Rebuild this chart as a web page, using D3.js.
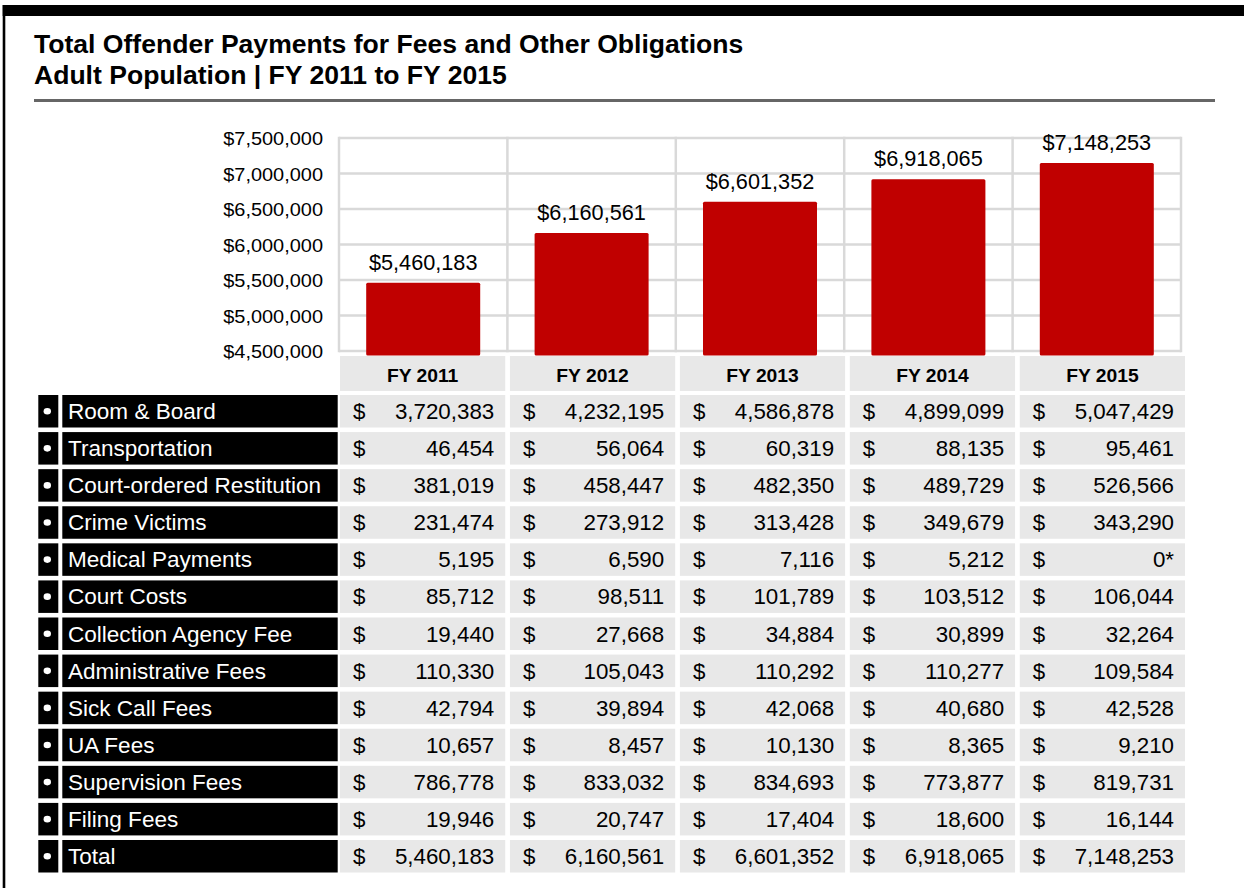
<!DOCTYPE html>
<html>
<head>
<meta charset="utf-8">
<script src="https://cdn.jsdelivr.net/npm/d3@7"></script>
<style>
  html, body { margin: 0; padding: 0; background: #fff; }
  svg { display: block; font-family: "Liberation Sans", Arial, Helvetica, sans-serif; }
</style>
</head>
<body>
<svg id="chart" width="1244" height="888"></svg>
<script>
// ---- Data -------------------------------------------------------------
const titleLines = [
  "Total Offender Payments for Fees and Other Obligations",
  "Adult Population | FY 2011 to FY 2015"
];
const fiscalYears = ["FY 2011", "FY 2012", "FY 2013", "FY 2014", "FY 2015"];
const yTickValues = [4500000, 5000000, 5500000, 6000000, 6500000, 7000000, 7500000];

const categories = [
  "Room & Board", "Transportation", "Court-ordered Restitution", "Crime Victims",
  "Medical Payments", "Court Costs", "Collection Agency Fee", "Administrative Fees",
  "Sick Call Fees", "UA Fees", "Supervision Fees", "Filing Fees", "Total"
];
// One array per fiscal year, in category order (last entry is the total)
const fy2011 = [3720383, 46454, 381019, 231474, 5195, 85712, 19440, 110330, 42794, 10657, 786778, 19946, 5460183];
const fy2012 = [4232195, 56064, 458447, 273912, 6590, 98511, 27668, 105043, 39894, 8457, 833032, 20747, 6160561];
const fy2013 = [4586878, 60319, 482350, 313428, 7116, 101789, 34884, 110292, 42068, 10130, 834693, 17404, 6601352];
const fy2014 = [4899099, 88135, 489729, 349679, 5212, 103512, 30899, 110277, 40680, 8365, 773877, 18600, 6918065];
const fy2015 = [5047429, 95461, 526566, 343290, 0, 106044, 32264, 109584, 42528, 9210, 819731, 16144, 7148253];
// Cells carrying a footnote marker: [category index, year index]
const footnoteCells = [[4, 4]];

const yearColumns = [fy2011, fy2012, fy2013, fy2014, fy2015];
const totalIndex = categories.indexOf("Total");
const totals = yearColumns.map(col => col[totalIndex]);

// ---- Setup -------------------------------------------------------------
const svg = d3.select("#chart");
const fmtNum = d3.format(",");
const fmtMoney = v => "$" + fmtNum(v);

// Text helper: positions text and applies a slight horizontal stretch
function putText(g, str, x, y, opts) {
  const o = Object.assign({ size: 20, weight: "normal", anchor: "start", sx: 1, fill: "#000" }, opts || {});
  return g.append("text")
    .attr("transform", `translate(${x},${y}) scale(${o.sx},1)`)
    .attr("text-anchor", o.anchor)
    .attr("font-size", o.size)
    .attr("font-weight", o.weight)
    .attr("fill", o.fill)
    .text(str);
}

// ---- Frame -------------------------------------------------------------
svg.append("rect").attr("x", 2.7).attr("y", 5).attr("width", 1244).attr("height", 11).attr("fill", "#000");
svg.append("rect").attr("x", 2.7).attr("y", 5).attr("width", 2.6).attr("height", 883).attr("fill", "#000");

// Title
const titleG = svg.append("g");
putText(titleG, titleLines[0], 34, 52.5, { size: 25, weight: "bold", sx: 1.063 });
putText(titleG, titleLines[1], 34, 83.5, { size: 25, weight: "bold", sx: 1.063 });
svg.append("rect").attr("x", 34).attr("y", 99).attr("width", 1181).attr("height", 3).attr("fill", "#666");

// ---- Bar chart ----------------------------------------------------------
const x = d3.scaleBand().domain(fiscalYears).range([339, 1181]).paddingInner(0.323).paddingOuter(0.1615);
const y = d3.scaleLinear().domain([4500000, 7500000]).range([351, 138]);
const step = x.step();
const plotLeft = 339, plotRight = 1181;

const grid = svg.append("g").attr("stroke", "#d9d9d9").attr("stroke-width", 2.5);
grid.selectAll("line.h").data(yTickValues).join("line")
  .attr("class", "h")
  .attr("x1", plotLeft).attr("x2", plotRight)
  .attr("y1", d => y(d)).attr("y2", d => y(d));
grid.selectAll("line.v").data(d3.range(fiscalYears.length + 1)).join("line")
  .attr("class", "v")
  .attr("x1", i => plotLeft + i * step).attr("x2", i => plotLeft + i * step)
  .attr("y1", y(7500000) - 1.25).attr("y2", y(4500000) + 1.25);

// Y tick labels
const tickG = svg.append("g");
yTickValues.forEach(v => putText(tickG, fmtMoney(v), 323, y(v) + 7.2, { size: 19, anchor: "end", sx: 1.05 }));

// Bars (run down to the top of the table header)
const barBottom = y(4500000) + 4.5;
svg.append("g").selectAll("rect").data(totals).join("rect")
  .attr("x", (d, i) => x(fiscalYears[i]))
  .attr("y", d => y(d))
  .attr("width", x.bandwidth())
  .attr("height", d => barBottom - y(d))
  .attr("rx", 1.5)
  .attr("fill", "#c00000");

// Value labels
const labelG = svg.append("g");
totals.forEach((v, i) => putText(labelG, fmtMoney(v), x(fiscalYears[i]) + x.bandwidth() / 2, y(v) - 13, { size: 21.5, anchor: "middle", sx: 1.01 }));

// ---- Data table ---------------------------------------------------------
const col = d3.scaleBand().domain(fiscalYears).range([340, 1185]).paddingInner(0.0278).paddingOuter(0);
const row = d3.scaleBand().domain(categories).range([395, 872.5]).paddingInner(0.1235).paddingOuter(0);
const cellFill = "#e8e8e8";

// Header row
const headG = svg.append("g");
fiscalYears.forEach(fy => {
  headG.append("rect").attr("x", col(fy)).attr("y", 356).attr("width", col.bandwidth()).attr("height", 35).attr("fill", cellFill);
  putText(headG, fy, col(fy) + col.bandwidth() / 2, 381.5, { size: 19, weight: "bold", anchor: "middle", sx: 1.015 });
});

// Body rows
const bodyG = svg.append("g");
categories.forEach((cat, r) => {
  const top = row(cat), h = row.bandwidth();
  const base = top + h / 2 + 7.8;
  bodyG.append("rect").attr("x", 38.3).attr("y", top).attr("width", 20).attr("height", h).attr("fill", "#000");
  bodyG.append("ellipse").attr("cx", 47.3).attr("cy", top + h / 2).attr("rx", 3.7).attr("ry", 3.3).attr("fill", "#fff");
  bodyG.append("rect").attr("x", 62.3).attr("y", top).attr("width", 275.4).attr("height", h).attr("fill", "#000");
  putText(bodyG, cat, 68, base, { size: 22, fill: "#fff", sx: 1.025 });

  fiscalYears.forEach((fy, c) => {
    const cx = col(fy), w = col.bandwidth();
    bodyG.append("rect").attr("x", cx).attr("y", top).attr("width", w).attr("height", h).attr("fill", cellFill);
    putText(bodyG, "$", cx + 13, base, { size: 22, sx: 1.015 });
    const flagged = footnoteCells.some(([fr, fc]) => fr === r && fc === c);
    const val = yearColumns[c][r];
    putText(bodyG, fmtNum(val) + (flagged ? "*" : ""), cx + w - 11, base, { size: 22, anchor: "end", sx: 1.015 });
  });
});
</script>
</body>
</html>
